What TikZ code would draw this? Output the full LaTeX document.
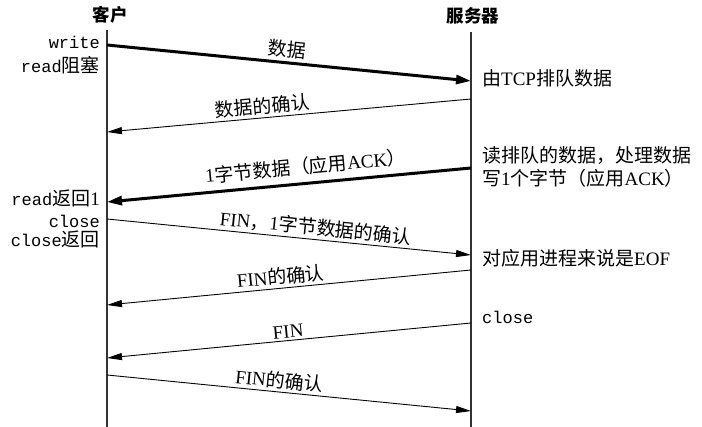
\documentclass[tikz,border=0pt]{standalone}
\usepackage{fontspec}
\setmainfont{Liberation Serif}
\setmonofont{Liberation Mono}
\newfontfamily\cjk{Noto Sans CJK SC}
\usetikzlibrary{arrows.meta, positioning}
\newcommand\zh[1]{{\cjk #1}}
\newcommand\mono[1]{{\ttfamily\fontsize{17}{20}\selectfont #1}}
\tikzset{
  lifeline/.style={line width=1.3pt, black!80},
  msg/.style={-{Triangle[length=15pt,width=7pt]}, line width=0.9pt},
  msgthick/.style={-{Triangle[length=15pt,width=9pt]}, line width=3pt},
  lbl/.style={sloped, above, inner sep=2.5pt, font=\fontsize{19}{21}\selectfont},
  evtL/.style={anchor=mid east, inner sep=0pt, font=\fontsize{19}{21}\selectfont},
  evtR/.style={anchor=mid west, inner sep=0pt, font=\fontsize{19}{21}\selectfont},
  head/.style={inner sep=0pt, font=\fontsize{17.5}{20}\selectfont\bfseries}
}
\begin{document}
\begin{tikzpicture}[x=1pt, y=-1pt]
    \useasboundingbox (0,0) rectangle (702,427);
    % ---- lifelines ----
    \node[head] (client) at (110,15) {\zh{客户}};
    \node[head] (server) at (473,16) {\zh{服务器}};
    \coordinate (cTop) at (107,30);
    \coordinate (cBot) at (107,427);
    \coordinate (sTop) at (471,32);
    \coordinate (sBot) at (471,427);
    \draw[lifeline] (cTop) -- (cBot);
    \draw[lifeline] (sTop) -- (sBot);
    % ---- message end points ----
    \coordinate (c1) at (107,45);  \coordinate (s1) at (471,81);
    \coordinate (s2) at (471,99);  \coordinate (c2) at (107,132);
    \coordinate (s3) at (471,168); \coordinate (c3) at (107,202);
    \coordinate (c4) at (107,219); \coordinate (s4) at (471,255);
    \coordinate (s5) at (471,270); \coordinate (c5) at (107,305);
    \coordinate (s6) at (471,323); \coordinate (c6) at (107,358);
    \coordinate (c7) at (107,375); \coordinate (s7) at (471,411);
    % ---- messages ----
    \draw[msgthick] (c1) -- node[lbl, pos=0.49, inner sep=3.5pt] (m1) {\zh{数据}} (s1);
    \draw[msg] (s2) -- node[lbl, pos=0.57] (m2) {\zh{数据的确认}} (c2);
    \draw[msgthick] (s3) -- node[lbl, pos=0.45, inner sep=6.5pt] (m3)
      {1\zh{字节数据（应用}ACK\zh{）}} (c3);
    \draw[msg] (c4) -- node[lbl, pos=0.57] (m4)
      {FIN\zh{，}1\zh{字节数据的确认}} (s4);
    \draw[msg] (s5) -- node[lbl, pos=0.52] (m5) {FIN\zh{的确认}} (c5);
    \draw[msg] (s6) -- node[lbl, pos=0.50] (m6) {FIN} (c6);
    \draw[msg] (c7) -- node[lbl, pos=0.47] (m7) {FIN\zh{的确认}} (s7);
    % ---- client events ----
    \node[evtL] (write) at (100,46) {\mono{write}};
    \node[evtL] (readblk) at (100,70) {\mono{read}\zh{阻塞}};
    \node[evtL] (readret) at (100,203) {\mono{read}\zh{返回}1};
    \node[evtL] (cclose) at (100,225) {\mono{close}};
    \node[evtL] (ccloseret) at (100,244) {\mono{close}\zh{返回}};
    % ---- server events ----
    \node[evtR] (queue) at (482,83) {\zh{由}TCP\zh{排队数据}};
    \node[evtR] (proc) at (482,160) {\zh{读排队的数据，处理数据}};
    \node[evtR] (wr1) at (482,183) {\zh{写}1\zh{个字节（应用}ACK\zh{）}};
    \node[evtR] (eof) at (482,263) {\zh{对应用进程来说是}EOF};
    \node[evtR] (sclose) at (482,321) {\mono{close}};
\end{tikzpicture}
\end{document}
